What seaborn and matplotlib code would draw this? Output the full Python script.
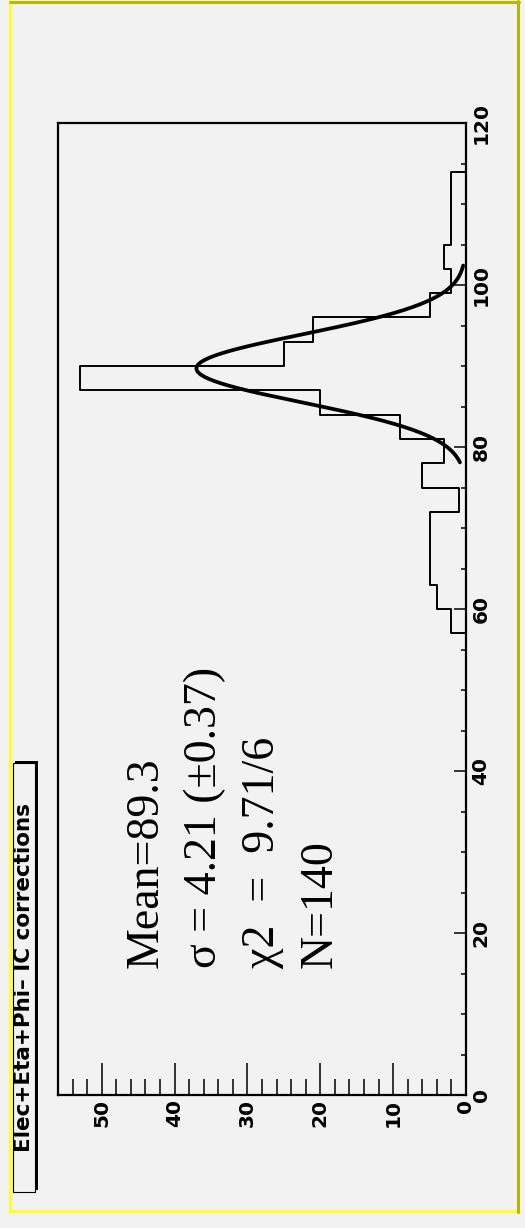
import numpy as np
import pandas as pd
import seaborn as sns
import matplotlib.pyplot as plt
from matplotlib.lines import Line2D
from matplotlib.patches import Rectangle
from matplotlib.ticker import MultipleLocator

# the ROOT canvas is stored turned 90 deg: the histogram variable runs
# up the right side, the counts run right-to-left along the bottom
bin_low = [57, 60, 63, 66, 69, 72, 75, 78, 81, 84, 87, 90, 93, 96, 99, 102, 105, 108, 111]
counts = [2, 4, 5, 5, 5, 1, 6, 3, 9, 20, 53, 25, 21, 5, 2, 3, 2, 2, 2]
bin_width = 3
var_ticks = [0, 20, 40, 60, 80, 100, 120]
count_ticks = [0, 10, 20, 30, 40, 50]

title = "Elec+Eta+Phi\u2013 IC corrections"
stats_lines = ["Mean=89.3", "\u03c3 = 4.21 (\u00b10.37)", "\u03c72  =  9.71/6", "N=140"]

# gaussian fit as drawn on the canvas
fit_mean = 89.7
fit_sigma = 4.21
fit_amp = 37
fit_lo, fit_hi = 78.1, 102.4

W, H = 525, 1228
bg = "#f2f2f2"


def fx(px):
    return px / W


def fy(py):
    return 1 - py / H


sns.set_style("ticks")
plt.rcParams["font.family"] = ["DejaVu Sans"]
plt.rcParams["text.color"] = "black"
plt.rcParams["xtick.color"] = "black"
plt.rcParams["ytick.color"] = "black"
plt.rcParams["axes.edgecolor"] = "black"

fig = plt.figure(figsize=(W / 100, H / 100), dpi=100, facecolor=bg)
ax = fig.add_axes([fx(58), fy(1095), (466 - 58) / W, (1095 - 123) / H])
ax.set_facecolor(bg)

df = pd.DataFrame({"x": np.array(bin_low) + bin_width / 2, "n": counts})
sns.histplot(data=df, y="x", weights="n", binwidth=bin_width, binrange=(0, 120),
             element="step", fill=False, color="black", linewidth=1.4, ax=ax)

t = np.linspace(fit_lo, fit_hi, 200)
g = fit_amp * np.exp(-0.5 * ((t - fit_mean) / fit_sigma) ** 2)
sns.lineplot(x=g, y=t, sort=False, estimator=None, color="black", linewidth=2.7, ax=ax)

ax.set_xlim(56, 0)
ax.set_ylim(0, 120)
ax.set_xlabel("")
ax.set_ylabel("")

ax.yaxis.tick_right()
ax.set_yticks(var_ticks)
ax.yaxis.set_minor_locator(MultipleLocator(5))
ax.set_xticks(count_ticks)
ax.xaxis.set_minor_locator(MultipleLocator(2))

ax.tick_params(axis="y", which="major", direction="in", length=8.6, width=1.1,
               right=True, left=False, labelright=True, labelleft=False,
               labelrotation=90, pad=4)
ax.tick_params(axis="y", which="minor", direction="in", length=3.6, width=1.1,
               right=True, left=False)
ax.tick_params(axis="x", which="major", direction="in", length=23, width=1.1,
               top=False, bottom=True, labelrotation=90, pad=3)
ax.tick_params(axis="x", which="minor", direction="in", length=11.5, width=1.1,
               top=False, bottom=True)

for lbl in ax.get_xticklabels() + ax.get_yticklabels():
    lbl.set_fontweight("bold")
    lbl.set_fontsize(14.5)
    lbl.set_color("black")
for lbl in ax.get_yticklabels():
    lbl.set_va("center")

for s in ax.spines.values():
    s.set_linewidth(1.6)
    s.set_color("black")

# pad border with bevel colours
fig.add_artist(Line2D([fx(10), fx(10)], [fy(1), fy(1212)], color="#ffff33", lw=2.2, transform=fig.transFigure))
fig.add_artist(Line2D([fx(10), fx(519)], [fy(1211), fy(1211)], color="#ffff33", lw=2.2, transform=fig.transFigure))
fig.add_artist(Line2D([fx(10), fx(519)], [fy(1.5), fy(1.5)], color="#b8b800", lw=2.2, transform=fig.transFigure))
fig.add_artist(Line2D([fx(518), fx(518)], [fy(1), fy(1212)], color="#b8b800", lw=2.2, transform=fig.transFigure))

# title box with shadow
fig.add_artist(Rectangle((fx(15), fy(1189.5)), 22.5 / W, 429 / H, facecolor="black",
                         edgecolor="none", transform=fig.transFigure))
fig.add_artist(Rectangle((fx(12.5), fy(1192)), 22.5 / W, 429 / H, facecolor=bg,
                         edgecolor="black", lw=0.8, transform=fig.transFigure))
fig.text(fx(24), fy(977), title, rotation=90, ha="center", va="center",
         fontsize=15.5, fontweight="bold", family=["DejaVu Sans"], color="black")

for i, line in enumerate(stats_lines):
    fig.text(fx(158 + 58 * i), fy(968), line, rotation=90, rotation_mode="anchor",
             ha="left", va="baseline", fontsize=33, color="black",
             family=["Liberation Serif", "DejaVu Serif"])

fig.savefig("out.png", dpi=100, facecolor=bg)
